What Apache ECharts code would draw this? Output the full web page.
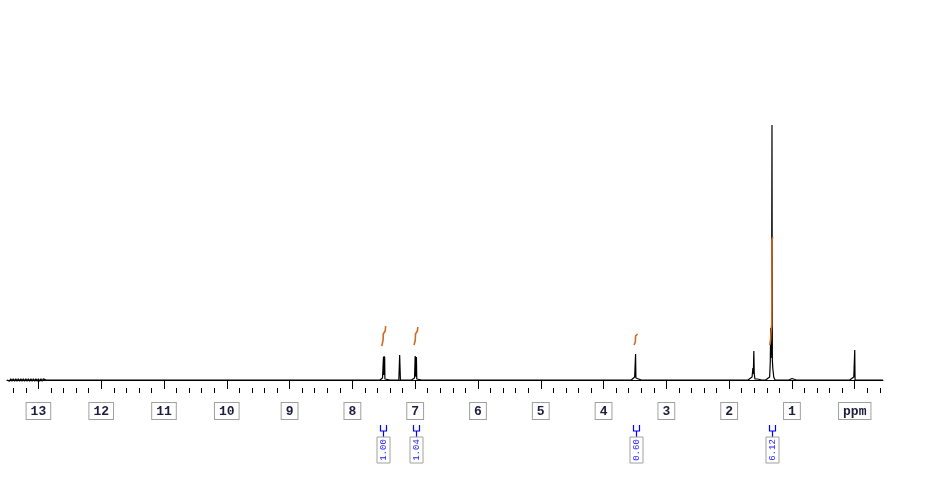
<!DOCTYPE html>
<html><head><meta charset="utf-8">
<script src="https://cdn.jsdelivr.net/npm/echarts@6/dist/echarts.min.js"></script>
<style>html,body{margin:0;padding:0;background:#fff}#c{width:929px;height:484px}</style>
</head><body><div id="c"></div>
<script>
// Tick labels (ppm)
const majorTicks = [0,1,2,3,4,5,6,7,8,9,10,11,12,13];
const minorTicks = [-0.4,-0.2,0.2,0.4,0.6,0.8];
for (let i = 1; i <= 13; i++) { [0.2,0.4,0.6,0.8].forEach(f => { const v = +(i+f).toFixed(1); if (v <= 13.4) minorTicks.push(v); }); }

// Spectrum points [ppm, intensity]
const noiseRegion = [[13.5,0],[13.48,1.1],[13.46,-1.1],[13.44,1.1],[13.42,-1.1],[13.4,1.1],[13.38,-1.1],[13.36,1.1],[13.34,-1.1],[13.32,1.1],[13.3,-1.1],[13.28,1.1],[13.26,-1.1],[13.24,1.1],[13.22,-1.1],[13.2,1.1],[13.18,-1.1],[13.16,1.1],[13.14,-1.1],[13.12,1.1],[13.1,-1.1],[13.08,1.1],[13.06,-1.1],[13.04,1.1],[13.02,-1.1],[13.0,1.1],[12.98,-1.1],[12.96,1.1],[12.94,-1.1],[12.92,1.1],[12.88,0],[12.82,0]];
const aromatic1 = [[7.56,0],[7.52,2],[7.51,1],[7.505,23],[7.5,5],[7.495,24],[7.49,6],[7.486,23],[7.482,1],[7.47,2],[7.46,0],[7.4,0]];
const solvent = [[7.3,0],[7.26,0],[7.247,25],[7.235,0],[7.18,0]];
const aromatic2 = [[7.06,0],[7.01,2],[7.0,24],[6.995,4],[6.99,23],[6.985,3],[6.98,23],[6.975,1],[6.96,2],[6.95,0],[6.9,0]];
const methoxy = [[3.56,0],[3.505,3],[3.495,3],[3.49,26],[3.485,2],[3.475,1],[3.465,0],[3.4,0]];
const aliphatic1 = [[1.7,0],[1.635,3],[1.622,12],[1.615,6],[1.607,29],[1.6,6],[1.59,1],[1.58,0],[1.55,1],[1.54,0],[1.48,0]];
const aliphatic2 = [[1.42,0],[1.355,3],[1.345,18],[1.338,52],[1.333,22],[1.325,44],[1.318,255],[1.312,20],[1.305,12],[1.29,3],[1.28,1],[1.27,0],[1.25,1.5],[1.24,0],[1.2,0],[1.05,0],[1.0,1.5],[0.99,0],[0.93,0]];
const tms = [[0.08,0],[0.015,3],[0.005,4],[0.0,30],[-0.005,0],[-0.06,0],[-0.45,0]];

// Integral curves [ppm, level]
const integral1 = [[7.532,34],[7.511,40],[7.508,46],[7.478,49],[7.47,54]];
const integral2 = [[7.018,35],[6.998,40],[6.995,46],[6.965,49],[6.958,53]];
const integral3 = [[3.514,35],[3.495,38],[3.49,44],[3.47,45],[3.46,46]];
const integral4 = [[1.353,35],[1.34,40],[1.335,47],[1.322,55],[1.318,140],[1.31,142],[1.305,143]];

// Integration labels
const integralPos = [7.505, 6.985, 3.49, 1.31];
const integralText = ['1.00', '1.04', '0.60', '6.12'];

const spectrum = [].concat(noiseRegion, aromatic1, solvent, aromatic2, methoxy, aliphatic1, aliphatic2, tms);

const labelColor = '#1c1c40';
const integralSeries = [integral1, integral2, integral3, integral4].map(seg => ({
  type: 'line', data: seg, showSymbol: false, symbol: 'none',
  lineStyle: {color: '#d06a20', width: 1.6}, xAxisIndex: 0, z: 4, silent: true
}));
const chart = echarts.init(document.getElementById('c'), null, {renderer: 'canvas'});
chart.setOption({
  animation: false,
  backgroundColor: '#fff',
  grid: {left: 7, right: 46, top: 100, bottom: 96, containLabel: false},
  xAxis: [{
    type: 'value', inverse: true, min: -0.45, max: 13.5,
    axisLine: {show: true, lineStyle: {color: '#000', width: 1}},
    axisTick: {show: true, customValues: majorTicks, length: 9, lineStyle: {color: '#000'}},
    axisLabel: {show: true, customValues: majorTicks, margin: 15,
      formatter: v => v === 0 ? 'ppm' : String(v),
      color: labelColor, fontFamily: 'Liberation Mono', fontWeight: 'bold', fontSize: 13,
      borderColor: '#a0a0a0', borderWidth: 1, padding: [2, 4, 1, 4], backgroundColor: '#fff'},
    splitLine: {show: false}
  }, {
    type: 'value', inverse: true, min: -0.45, max: 13.5, position: 'bottom',
    axisLine: {show: false},
    axisTick: {show: true, customValues: minorTicks, length: 5, lineStyle: {color: '#000'}},
    axisLabel: {show: false}, splitLine: {show: false}
  }],
  yAxis: {type: 'value', min: -8, max: 280, show: false},
  series: [{
    type: 'line', data: spectrum, showSymbol: false, symbol: 'none',
    lineStyle: {color: '#000', width: 1.2}, xAxisIndex: 0, z: 3, silent: true
  }].concat(integralSeries, [{
    type: 'custom', xAxisIndex: 0, yAxisIndex: 0, silent: true,
    data: integralPos.map((p, i) => [p, 0, i]),
    renderItem: function (params, api) {
      const x = Math.round(api.coord([api.value(0), 0])[0]) + 0.5;
      const txt = integralText[api.value(2)];
      return {type: 'group', children: [
        {type: 'polyline', shape: {points: [[x-3, 425], [x-3, 431], [x+3, 431], [x+3, 425]]}, style: {stroke: '#0000ff', lineWidth: 1.2, fill: null}},
        {type: 'line', shape: {x1: x, y1: 431, x2: x, y2: 437}, style: {stroke: '#0000ff', lineWidth: 1.2}},
        {type: 'rect', shape: {x: x - 6.5, y: 437, width: 13, height: 26}, style: {stroke: '#a0a0a0', fill: '#fff', lineWidth: 1}},
        {type: 'text', x: x, y: 450, rotation: Math.PI / 2,
          style: {text: txt, x: 0, y: 0, align: 'center', verticalAlign: 'middle', fill: '#2020ff', font: '9px "Liberation Mono"'}}
      ]};
    }
  }])
});
</script></body></html>
